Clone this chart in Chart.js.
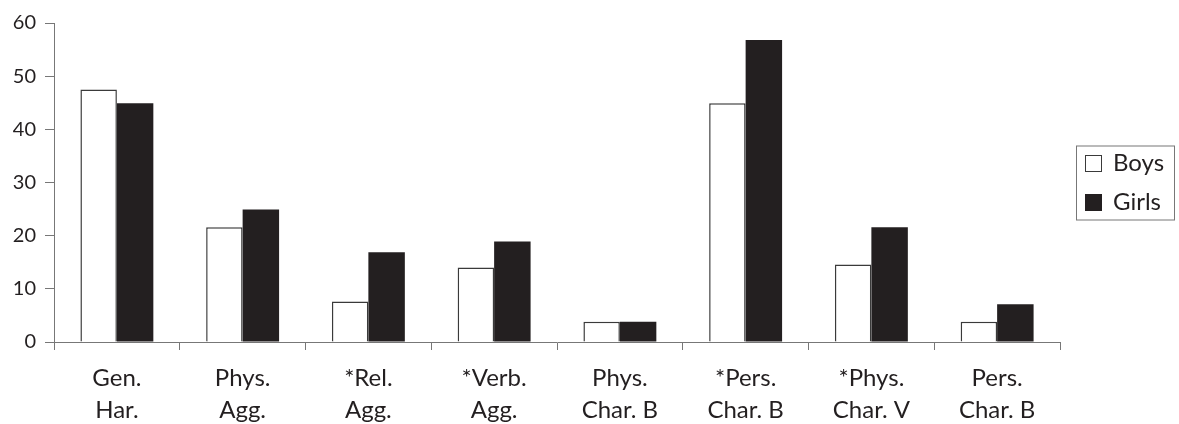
<!DOCTYPE html>
<html lang="en">
<head>
    <meta charset="UTF-8">
    <title>Boys and Girls</title>
    <script src="https://cdn.jsdelivr.net/npm/chart.js"></script>
    <style>
        body { margin: 0; padding: 0; background: #ffffff; }
        #wrap { width: 1179px; height: 424px; }
    </style>
</head>
<body>
<div id="wrap"><canvas id="barChart"></canvas></div>
<script>
// categories (two-line labels)
const categories = [
    ["Gen.", "Har."],
    ["Phys.", "Agg."],
    ["*Rel.", "Agg."],
    ["*Verb.", "Agg."],
    ["Phys.", "Char. B"],
    ["*Pers.", "Char. B"],
    ["*Phys.", "Char. V"],
    ["Pers.", "Char. B"]
];
const boys  = [47.5, 21.6, 7.6, 14.0, 3.8, 44.9, 14.6, 3.8];
const girls = [44.9, 24.9, 16.9, 18.9, 3.8, 56.8, 21.6, 7.1];
const seriesNames = ["Boys", "Girls"];

const ink = "#231f20";
const axisGrey = "#777777";
const fontFamily = "Lato, 'Open Sans', sans-serif";

// simple boxed legend on the right
const boxLegend = {
    id: "boxLegend",
    afterDraw(chart) {
        const ctx = chart.ctx;
        const area = chart.chartArea;
        const left = area.right + 16;
        const w = 98, h = 74;
        const top = (area.top + area.bottom) / 2 - h / 2;
        ctx.save();
        ctx.strokeStyle = axisGrey;
        ctx.lineWidth = 1;
        ctx.strokeRect(left + 0.5, top + 0.5, w, h);
        ctx.font = "24px " + fontFamily;
        ctx.textBaseline = "middle";
        chart.data.datasets.forEach((ds, i) => {
            const cy = top + 18 + i * 39;
            ctx.fillStyle = ds.backgroundColor;
            ctx.fillRect(left + 9, cy - 8.5, 17, 17);
            ctx.strokeStyle = ds.borderColor;
            ctx.lineWidth = 1;
            ctx.strokeRect(left + 9.5, cy - 8, 16, 16);
            ctx.fillStyle = ink;
            ctx.fillText(ds.label, left + 37, cy);
        });
        ctx.restore();
    }
};

new Chart(document.getElementById("barChart"), {
    type: "bar",
    data: {
        labels: categories,
        datasets: [{
            label: seriesNames[0],
            data: boys,
            backgroundColor: "#ffffff",
            borderColor: "#3a3a3a",
            borderWidth: 1.5
        }, {
            label: seriesNames[1],
            data: girls,
            backgroundColor: ink,
            borderColor: ink,
            borderWidth: 0
        }]
    },
    options: {
        responsive: true,
        maintainAspectRatio: false,
        animation: false,
        layout: { padding: { top: 23, right: 119, left: 0, bottom: 0 } },
        datasets: { bar: { barPercentage: 1.0, categoryPercentage: 0.58 } },
        plugins: {
            legend: { display: false },
            tooltip: { enabled: false }
        },
        scales: {
            x: {
                grid: {
                    offset: true,
                    drawOnChartArea: false,
                    tickLength: 8,
                    color: axisGrey
                },
                border: { color: axisGrey, width: 1 },
                ticks: {
                    color: ink,
                    padding: 12,
                    maxRotation: 0,
                    font: { family: fontFamily, size: 24, lineHeight: 1.35 }
                },
                afterFit: (scale) => { scale.height = 82; }
            },
            y: {
                min: 0,
                max: 60,
                ticks: {
                    stepSize: 10,
                    color: ink,
                    padding: 9,
                    font: { family: fontFamily, size: 20 }
                },
                grid: {
                    drawOnChartArea: false,
                    tickLength: 9,
                    color: axisGrey
                },
                border: { color: axisGrey, width: 1 },
                afterFit: (scale) => { scale.width = 54; }
            }
        }
    },
    plugins: [boxLegend]
});
</script>
</body>
</html>
